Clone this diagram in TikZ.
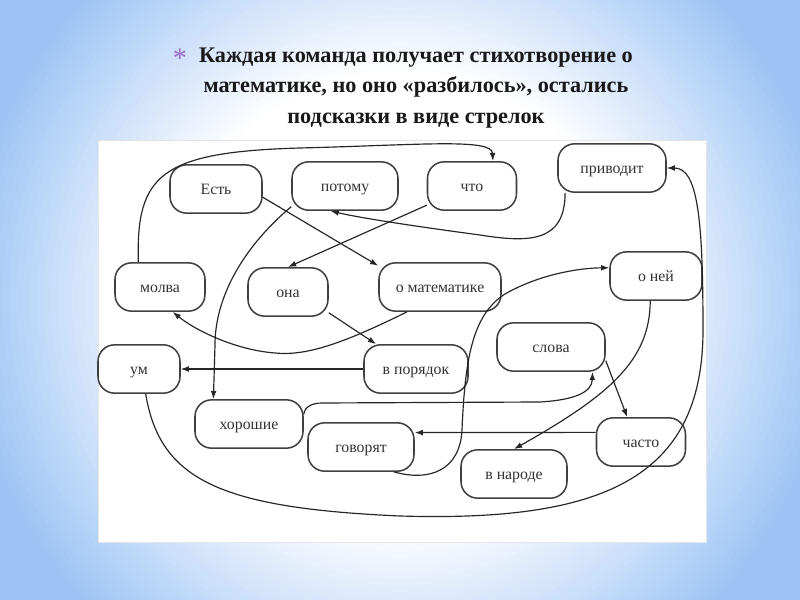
\documentclass[tikz,border=0pt]{standalone}
\usepackage{fontspec}
\setmainfont{Liberation Serif}
\usetikzlibrary{arrows.meta}
\definecolor{slideblue}{RGB}{158,196,245}
\definecolor{starpurple}{RGB}{153,102,204}

\begin{document}
\begin{tikzpicture}[x=0.03cm,y=-0.03cm,
  word/.style={draw=black!75, line width=1.3pt, rounded corners=0.5cm, minimum height=1.45cm, text height=9pt, text depth=0pt, font=\fontsize{13.5}{15}\selectfont, text=black!80},
  link/.style={->, line width=1pt, black!85},
  >={Latex[length=7pt,width=5pt]}]
\useasboundingbox (0,0) rectangle (800,600);
\begin{scope}
\clip (0,0) rectangle (800,600);
\fill[slideblue] (0,0) rectangle (800,600);
\foreach \r in {440,433,...,230} {
  \pgfmathsetmacro\mixp{(\r-230)/2.1}
  \fill[slideblue!\mixp!white] (400,300) circle[radius=\r];
}
\fill[white] (400,300) circle[radius=230];
\end{scope}
\fill[white, draw=black!10] (98,140) rectangle (706,542);
\node[text=starpurple, font=\fontsize{24}{24}\selectfont] (star) at (180,58) {*};
\node[font=\bfseries\fontsize{19}{26}\selectfont, align=center, text=black!90] (title) at (416,88) {Каждая команда получает стихотворение о\\математике, но оно «разбилось», остались\\подсказки в виде стрелок};
\node[word, minimum width=2.76cm] (est) at (216,189) {Есть};
\node[word, minimum width=3.18cm] (potomu) at (345,186) {потому};
\node[word, minimum width=2.67cm] (chto) at (472,186) {что};
\node[word, minimum width=3.24cm] (privodit) at (612,168) {приводит};
\node[word, minimum width=2.7cm] (molva) at (160,287) {молва};
\node[word, minimum width=2.4cm] (ona) at (288,292) {она};
\node[word, minimum width=3.66cm] (omat) at (440,287) {о математике};
\node[word, minimum width=2.76cm] (oney) at (656,276) {о ней};
\node[word, minimum width=2.46cm] (um) at (139,369) {ум};
\node[word, minimum width=3.12cm] (vpor) at (416,369) {в порядок};
\node[word, minimum width=3.24cm] (slova) at (551,347) {слова};
\node[word, minimum width=3.24cm] (horoshie) at (249,424) {хорошие};
\node[word, minimum width=3.18cm] (govoryat) at (361,447) {говорят};
\node[word, minimum width=2.67cm] (chasto) at (641,442) {часто};
\node[word, minimum width=3.18cm] (vnarode) at (514,474) {в народе};
\draw[link] (est.-10) -- (omat.161);
\draw[link] (omat.-143) .. controls (340,345) and (305,356) .. (275,353) .. controls (235,350) and (195,330) .. (molva.-63);
\draw[link] (molva.131) .. controls (136,175) and (160,152) .. (300,148) .. controls (420,145) and (492,138) .. (chto.50);
\draw[link] (chto.203) -- (ona.north);
\draw[link] (ona.-27) -- (vpor.148);
\draw[link] (vpor.west) -- (um.east);
\draw[link] (um.-75) .. controls (160,480) and (220,508) .. (400,516) .. controls (600,522) and (703,480) .. (703,330) .. controls (703,220) and (698,168) .. (privodit.east);
\draw[link] (privodit.-152) .. controls (565,242) and (530,243) .. (480,235) .. controls (420,227) and (360,218) .. (potomu.-120);
\draw[link] (potomu.-159) .. controls (240,250) and (215,300) .. (215,345) -- (horoshie.145);
\draw[link] (horoshie.10) to[out=85,in=180] (322,403) -- (540,402) .. controls (575,400) and (592,392) .. (slova.-31);
\draw[link] (slova.-14) -- (chasto.119);
\draw[link] (chasto.168) -- (govoryat.15);
\draw[link] (govoryat.-37) .. controls (430,482) and (460,470) .. (462,430) .. controls (465,360) and (472,315) .. (505,294) .. controls (540,274) and (580,268) .. (oney.170);
\draw[link] (oney.-103) .. controls (650,360) and (610,395) .. (vnarode.north);
\end{tikzpicture}
\end{document}
